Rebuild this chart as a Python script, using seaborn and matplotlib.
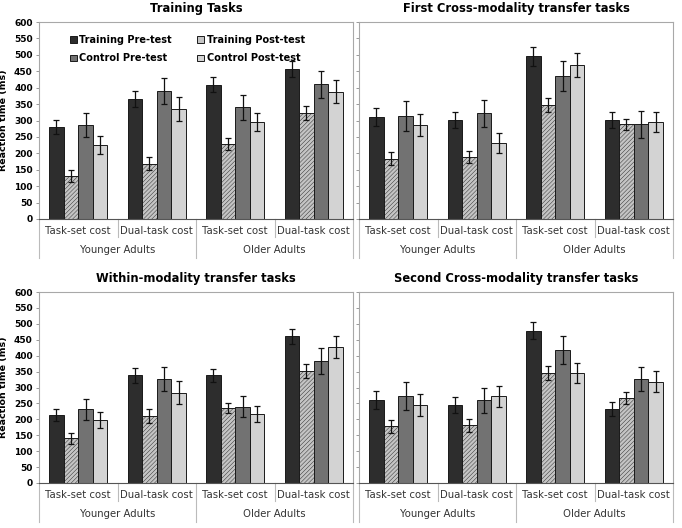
import numpy as np
import pandas as pd
import seaborn as sns
import matplotlib
import matplotlib.pyplot as plt

matplotlib.use("Agg")

# Series and categories
series = ["Training Pre-test", "Training Post-test", "Control Pre-test", "Control Post-test"]
costs = ["Task-set cost", "Dual-task cost", "Task-set cost", "Dual-task cost"]
ages = ["Younger Adults", "Older Adults"]
titles = [
    "Training Tasks",
    "First Cross-modality transfer tasks",
    "Within-modality transfer tasks",
    "Second Cross-modality transfer tasks",
]

# Means (rows = series, columns = Younger TS, Younger DT, Older TS, Older DT)
training_means = [[280, 366, 409, 456], [131, 169, 228, 322], [287, 390, 340, 410], [226, 334, 295, 387]]
training_errs = [[22, 25, 22, 24], [18, 21, 18, 21], [36, 40, 37, 42], [27, 37, 27, 35]]

first_cross_means = [[311, 301, 495, 301], [184, 190, 347, 288], [314, 322, 436, 288], [287, 231, 469, 295]]
first_cross_errs = [[28, 24, 28, 24], [21, 18, 21, 18], [45, 41, 46, 41], [34, 30, 36, 30]]

within_means = [[214, 338, 338, 461], [140, 212, 235, 353], [232, 327, 240, 383], [198, 284, 218, 427]]
within_errs = [[20, 24, 20, 24], [16, 22, 16, 22], [33, 38, 32, 40], [26, 36, 25, 35]]

second_cross_means = [[262, 246, 478, 233], [178, 181, 346, 268], [273, 260, 417, 326], [244, 273, 346, 318]]
second_cross_errs = [[28, 25, 27, 23], [21, 20, 21, 19], [45, 39, 44, 38], [35, 33, 32, 33]]

colors = ["#2d2d2d", "#c4c4c4", "#727272", "#d3d3d3"]

plt.rcParams["hatch.color"] = "#acacac"
plt.rcParams["hatch.linewidth"] = 0.3

fig = plt.figure(figsize=(6.82, 5.28), dpi=100)
W, H = 682, 528

# axes boxes in pixels: (left, right, zero_y, top_y)
boxes = [(39, 353, 219, 22), (359, 673, 219, 22), (39, 353, 483, 292), (359, 673, 483, 292)]
panel_data = [
    (training_means, training_errs),
    (first_cross_means, first_cross_errs),
    (within_means, within_errs),
    (second_cross_means, second_cross_errs),
]
keys = ["Y-TS", "Y-DT", "O-TS", "O-DT"]

for i, ((l, r, y0, y1), (means, errs)) in enumerate(zip(boxes, panel_data)):
    ax = fig.add_axes([l / W, 1 - y0 / H, (r - l) / W, (y0 - y1) / H])
    rows = []
    for s, name in enumerate(series):
        for c, k in enumerate(keys):
            rows.append({"cond": k, "series": name, "rt": means[s][c], "err": errs[s][c]})
    df = pd.DataFrame(rows)

    sns.barplot(data=df, x="cond", y="rt", hue="series", order=keys, hue_order=series,
                palette=colors, width=0.74, gap=0, errorbar=None, edgecolor="#1a1a1a",
                linewidth=0.7, saturation=1, legend=(i == 0), ax=ax)

    bar_sets = list(ax.containers)
    for s, cont in enumerate(bar_sets):
        xs = [p.get_x() + p.get_width() / 2 for p in cont.patches]
        hs = [p.get_height() for p in cont.patches]
        ax.errorbar(xs, hs, yerr=errs[s], fmt="none", ecolor="#111111",
                    elinewidth=0.9, capsize=2.3, capthick=0.9)
        if s == 1:
            for p in cont.patches:
                p.set_hatch("////////")

    ax.set_xlim(-0.5, 3.5)
    ax.set_ylim(0, 600)
    ax.set_yticks(np.arange(0, 601, 50))
    ax.set_xlabel("")
    ax.set_xticks([])
    for side in ["top", "right", "left"]:
        ax.spines[side].set_color("#a8a8a8")
        ax.spines[side].set_linewidth(0.8)
    ax.spines["bottom"].set_color("#555555")
    ax.spines["bottom"].set_linewidth(0.8)
    ax.tick_params(axis="y", length=2.5, width=0.6, color="#888888", pad=2)
    if i % 2 == 0:
        ax.set_ylabel("Reaction time (ms)", fontsize=6.8, fontweight="bold", labelpad=4)
        for t in ax.get_yticklabels():
            t.set_fontsize(6.5)
            t.set_fontweight("bold")
    else:
        ax.set_ylabel("")
        ax.set_yticklabels([])
    ax.set_title(titles[i], fontsize=8.3, fontweight="bold", pad=7)

    # hierarchical category axis
    ph = y0 - y1
    tr = ax.get_xaxis_transform()
    for c, lab in enumerate(costs):
        ax.text(c, -12.5 / ph, lab, transform=tr, ha="center", va="center",
                fontsize=7.3, color="#333333")
    for g, lab in enumerate(ages):
        ax.text(2 * g + 0.5, -31 / ph, lab, transform=tr, ha="center", va="center",
                fontsize=7.3, color="#333333")
    for xv in [-0.5, 1.5, 3.5]:
        ax.plot([xv, xv], [0, -39 / ph], transform=tr, color="#bbbbbb", lw=0.8, clip_on=False)
    for xv in [0.5, 2.5]:
        ax.plot([xv, xv], [0, -18 / ph], transform=tr, color="#bbbbbb", lw=0.8, clip_on=False)

    if i == 0:
        handles, labels = ax.get_legend_handles_labels()
        idx = [0, 2, 1, 3]
        ax.legend([handles[k] for k in idx], [labels[k] for k in idx], ncol=2,
                  loc="upper left", bbox_to_anchor=(0.07, 0.98),
                  frameon=False, prop={"weight": "bold", "size": 7},
                  handlelength=0.7, handleheight=0.7, handletextpad=0.3,
                  columnspacing=2.6, labelspacing=0.9)

fig.savefig("out.png", dpi=100)
plt.close(fig)
